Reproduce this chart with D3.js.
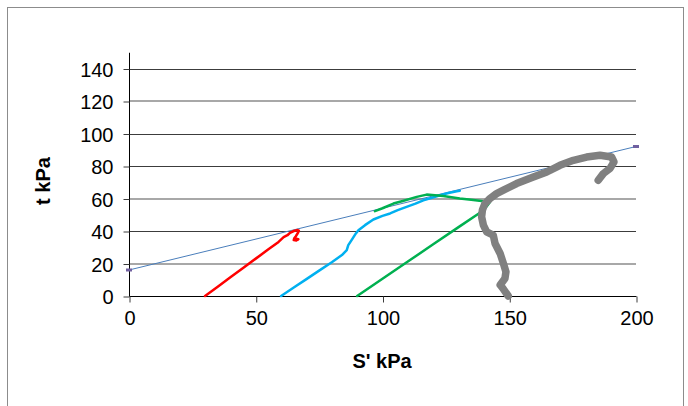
<!DOCTYPE html>
<html>
<head>
<meta charset="utf-8">
<script src="https://cdn.jsdelivr.net/npm/d3@7"></script>
<style>
  html, body { margin: 0; padding: 0; background: #fff; }
  svg { display: block; }
</style>
</head>
<body>
<svg id="chart" width="688" height="406"></svg>
<script>
// ---- data ----
const xTicks = [0, 50, 100, 150, 200];
const yTicks = [0, 20, 40, 60, 80, 100, 120, 140];
const xTitle = "S' kPa";
const yTitle = "t kPa";

const failS = [0, 200];
const failT = [16, 92];

const redS = [30, 35, 40, 45, 50, 55, 59, 61, 62.5, 63.5, 65, 66.5, 67, 66.8, 66.3, 65.8, 65.2, 65, 66, 66.8, 65.6, 66.5, 65.4];
const redT = [0, 5.7, 11.5, 17.3, 23, 28.7, 33.3, 36.2, 37.4, 38.9, 40, 40.6, 40.2, 39.3, 38, 36.8, 35.6, 34.4, 34.2, 35, 35.4, 34.6, 35];

const blueS = [60, 65, 70, 75, 80, 84, 85.9, 86.5, 87.8, 89.5, 90.5, 93.1, 96.4, 100, 103, 106, 109.5, 113, 116.1, 119.5, 122.7, 126, 129.3, 130.5];
const blueT = [0, 5.2, 10.4, 15.6, 20.8, 25.2, 28.2, 31.3, 34.4, 38.5, 40.5, 43.6, 47.1, 49.3, 50.8, 52.8, 54.8, 56.8, 58.9, 60.5, 62, 63.4, 64.5, 64.8];

const greenS = [90, 100, 110, 120, 130, 138, 141, 142.4, 139.8, 135, 130.5, 124, 117.4, 113.5, 108, 104.3, 100, 97];
const greenT = [0, 10.6, 21.2, 31.8, 42.4, 50.8, 55, 57.9, 58.3, 59.2, 60, 61.6, 62.4, 61, 58.5, 56.9, 54, 52.2];

const grayS = [149.6, 147.5, 146.4, 148.3, 148.7, 147.7, 146.4, 144.4, 143.7, 141.1, 139.8, 139.1, 139.4, 140.4, 142.4, 145, 147.7, 152.9, 159.5, 164.8, 170, 175.3, 180.5, 185.8, 190.4, 191.3, 189.7, 187.1, 185.1];
const grayT = [0, 4.7, 6.8, 10.8, 14.9, 20, 26.2, 32.3, 37.4, 39.5, 43.6, 48.7, 52.8, 56.9, 60, 63, 65.1, 69.2, 73.2, 76.3, 80.4, 83.5, 85.5, 86.6, 85.5, 82.5, 78.4, 75.3, 71.2];

// ---- drawing ----
const svg = d3.select("#chart");
const font = "'Liberation Sans', Arial, sans-serif";

// outer frame
svg.append("rect").attr("x", 7.5).attr("y", 7.5).attr("width", 676).attr("height", 420)
  .attr("fill", "#fff").attr("stroke", "#8c8c8c").attr("stroke-width", 1);

const x = d3.scaleLinear().domain([0, 200]).range([129, 636]);
const y = d3.scaleLinear().domain([0, 150]).range([296, 52.25]);

const lightGrid = new Set([20, 60, 120]);

// gridlines
const g = svg.append("g");
yTicks.filter(v => v > 0).forEach(v => {
  const light = lightGrid.has(v);
  const yy = light ? Math.round(y(v)) : Math.round(y(v)) + 0.5;
  g.append("line").attr("x1", x(0)).attr("x2", x(200)).attr("y1", yy).attr("y2", yy)
    .attr("stroke", light ? "#a8a8a8" : "#3c3c3c").attr("stroke-width", light ? 2 : 1);
});

// y axis
const yAxis = d3.axisLeft(y).tickValues(yTicks).tickSize(6).tickPadding(10).tickFormat(d3.format("d"));
const ya = svg.append("g").attr("transform", `translate(${Math.round(x(0)) + 0.5},0.5)`).call(yAxis);
ya.select(".domain").attr("stroke", "#000").attr("d", `M0,${y(150)}V${y(0)}`);
ya.selectAll(".tick line").attr("stroke", "#3c3c3c");
ya.selectAll("text").attr("font-family", font).attr("font-size", 20).attr("fill", "#000").attr("dy", "0.35em");

// x axis
const xAxis = d3.axisBottom(x).tickValues(xTicks).tickSize(6).tickPadding(8).tickFormat(d3.format("d"));
const xa = svg.append("g").attr("transform", `translate(0.5,${Math.round(y(0)) + 0.5})`).call(xAxis);
xa.select(".domain").attr("stroke", "#000").attr("d", `M${x(0)},0H${x(200)}`);
xa.selectAll(".tick line").attr("stroke", "#3c3c3c");
xa.selectAll("text").attr("font-family", font).attr("font-size", 20).attr("fill", "#000");

// titles
svg.append("text").attr("x", 382).attr("y", 368).attr("text-anchor", "middle")
  .attr("font-family", font).attr("font-weight", "bold").attr("font-size", 20).text(xTitle);
svg.append("text").attr("transform", "translate(50,181) rotate(-90)").attr("text-anchor", "middle")
  .attr("font-family", font).attr("font-weight", "bold").attr("font-size", 20).text(yTitle);

const line = d3.line().x(d => x(d[0])).y(d => y(d[1])).curve(d3.curveLinear);
const zip = (a, b) => a.map((v, i) => [v, b[i]]);

// failure line
svg.append("path").datum(zip(failS, failT)).attr("d", line)
  .attr("fill", "none").attr("stroke", "#4a7ebb").attr("stroke-width", 1);
svg.selectAll(".fm").data(zip(failS, failT)).enter().append("rect")
  .attr("x", d => x(d[0]) - 3).attr("y", d => y(d[1]) - 1.5).attr("width", 6).attr("height", 3)
  .attr("fill", "#7060a0");

const series = [
  { s: redS, t: redT, color: "#ff0000", w: 2.5 },
  { s: blueS, t: blueT, color: "#00b0f0", w: 2.5 },
  { s: greenS, t: greenT, color: "#00b050", w: 2.5 },
  { s: grayS, t: grayT, color: "#808080", w: 7.5 }
];
series.forEach(sr => {
  svg.append("path").datum(zip(sr.s, sr.t)).attr("d", line)
    .attr("fill", "none").attr("stroke", sr.color).attr("stroke-width", sr.w)
    .attr("stroke-linejoin", "round").attr("stroke-linecap", "round");
});
</script>
</body>
</html>
